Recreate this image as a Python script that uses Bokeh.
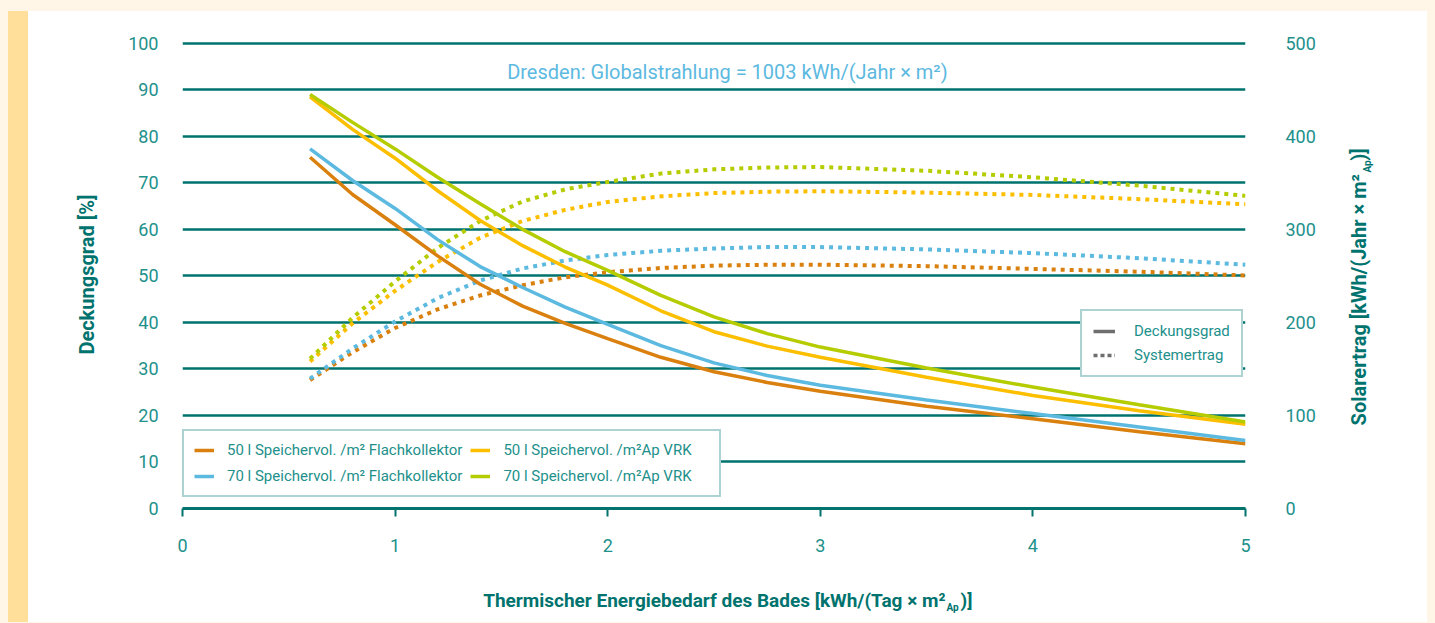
import math
from bokeh.plotting import figure
from bokeh.models import (Range1d, LinearAxis, Legend, LegendItem, Label, Div, FixedTicker)
from bokeh.layouts import row, column
from bokeh.embed import file_html
from bokeh.resources import INLINE

# ---------------- data ----------------
x_bedarf = [0.6, 0.8, 1.0, 1.2, 1.4, 1.6, 1.8, 2.0, 2.25, 2.5, 2.75, 3.0, 3.5, 4.0, 4.5, 5.0]

# Deckungsgrad [%] (left axis)
dg_50_fk = [75.5, 67.5, 61.0, 54.3, 48.2, 43.5, 39.8, 36.5, 32.5, 29.4, 27.1, 25.2, 22.0, 19.3, 16.5, 13.9]
dg_70_fk = [77.3, 70.5, 64.5, 57.8, 52.0, 47.5, 43.3, 39.6, 35.0, 31.3, 28.6, 26.5, 23.3, 20.4, 17.5, 14.6]
dg_50_vrk = [88.5, 81.5, 75.3, 68.3, 61.9, 56.5, 51.9, 48.0, 42.5, 38.0, 34.9, 32.5, 28.2, 24.3, 21.0, 18.1]
dg_70_vrk = [89.0, 83.0, 77.3, 71.2, 65.5, 60.0, 55.2, 51.2, 45.8, 41.2, 37.6, 34.7, 30.2, 26.1, 22.3, 18.6]

# Systemertrag [kWh/(Jahr x m2)] (right axis)
se_50_fk = [138, 168, 194, 214, 229, 240, 248.5, 254, 258.5, 261, 262, 262, 260.5, 257.5, 254.5, 250.5]
se_70_fk = [139.5, 172, 201, 226, 245, 258, 266.5, 272.5, 277, 279.5, 281, 281, 278.5, 274.5, 269, 262]
se_50_vrk = [158, 199, 234, 265, 291, 309, 321, 329.5, 335.5, 339, 340.5, 341, 339.5, 337, 332.5, 327]
se_70_vrk = [161, 205, 244, 280, 309, 330, 343, 351, 360, 364.5, 366.5, 367, 363, 356, 347, 336]

series_labels = ["50 l Speichervol. /m² Flachkollektor", "70 l Speichervol. /m² Flachkollektor",
                 "50 l Speichervol. /m²Ap VRK", "70 l Speichervol. /m²Ap VRK"]
x_ticks = [0, 1, 2, 3, 4, 5]
y_left_ticks = [0, 10, 20, 30, 40, 50, 60, 70, 80, 90, 100]
y_right_ticks = [0, 100, 200, 300, 400, 500]

# ---------------- style ----------------
FONT = "Roboto"
TEAL = "#00736e"
TXT = "#22908b"
C_OR = "#d9800f"
C_BL = "#5cb9df"
C_YE = "#fbbf00"
C_GR = "#b5cc00"
GRAY = "#6e6e6e"

MAIN_W, MAIN_H = 1307, 564
p = figure(width=MAIN_W, height=MAIN_H, x_range=Range1d(0, 5), y_range=Range1d(0, 100.6),
           output_backend="svg", toolbar_location=None, margin=0,
           min_border_left=154, min_border_right=90, min_border_top=29, min_border_bottom=67)
p.outline_line_color = None
p.background_fill_color = "white"
p.border_fill_color = "white"
p.extra_y_ranges = {"se": Range1d(0, 503)}

# grid
p.xgrid.visible = False
p.ygrid.ticker = FixedTicker(ticks=y_left_ticks)
p.ygrid.grid_line_color = TEAL
p.ygrid.grid_line_width = 2.5

# bottom axis
xa = p.xaxis[0]
xa.ticker = FixedTicker(ticks=x_ticks)
xa.axis_line_color = TEAL
xa.axis_line_width = 3
xa.major_tick_line_color = TEAL
xa.major_tick_line_width = 2
xa.major_tick_out = 8
xa.major_tick_in = 0
xa.minor_tick_line_color = None
xa.major_label_standoff = 22
xa.major_label_text_font = FONT
xa.major_label_text_font_size = "18px"
xa.major_label_text_color = TXT

# left axis
ya = p.yaxis[0]
ya.ticker = FixedTicker(ticks=y_left_ticks)
ya.axis_line_color = None
ya.major_tick_line_color = None
ya.minor_tick_line_color = None
ya.major_tick_out = 0
ya.major_tick_in = 0
ya.major_label_standoff = 24
ya.major_label_text_font = FONT
ya.major_label_text_font_size = "18px"
ya.major_label_text_color = TXT
ya.axis_label = "Deckungsgrad [%]"
ya.axis_label_standoff = 26
ya.axis_label_text_font = FONT
ya.axis_label_text_font_size = "20px"
ya.axis_label_text_font_style = "bold"
ya.axis_label_text_color = TEAL

# right axis
ra = LinearAxis(y_range_name="se", ticker=FixedTicker(ticks=y_right_ticks))
ra.axis_line_color = None
ra.major_tick_line_color = None
ra.minor_tick_line_color = None
ra.major_tick_out = 0
ra.major_tick_in = 0
ra.major_label_standoff = 40
ra.major_label_text_font = FONT
ra.major_label_text_font_size = "18px"
ra.major_label_text_color = TXT
p.add_layout(ra, "right")

# lines
colors = [C_OR, C_BL, C_YE, C_GR]
dg_all = [dg_50_fk, dg_70_fk, dg_50_vrk, dg_70_vrk]
se_all = [se_50_fk, se_70_fk, se_50_vrk, se_70_vrk]
dotted_r = []
solid_r = []
for c, se in zip(colors, se_all):
    dotted_r.append(p.line(x_bedarf, se, y_range_name="se", line_color=c, line_width=4,
                           line_dash="4 5", line_cap="butt"))
for c, dg in zip(colors, dg_all):
    solid_r.append(p.line(x_bedarf, dg, line_color=c, line_width=3.5))

# style legend proxies (no visible data)
nan = [float("nan")]
leg_solid = p.line(nan, nan, line_color=GRAY, line_width=3.5)
leg_dot = p.line(nan, nan, line_color=GRAY, line_width=3.5, line_dash="4 3")

def style_legend(lg):
    lg.border_line_color = "#5aa8a3"
    lg.border_line_width = 2
    lg.background_fill_color = "white"
    lg.background_fill_alpha = 1
    lg.label_text_font = FONT
    lg.label_text_font_size = "15px"
    lg.label_text_color = TXT
    lg.label_text_baseline = "middle"

leg1 = Legend(items=[LegendItem(label=series_labels[i], renderers=[solid_r[i]]) for i in range(4)],
              location=(0, 11), ncols=2, padding=10, spacing=8, glyph_height=18, glyph_width=20,
              label_standoff=13, label_width=206, margin=0)
style_legend(leg1)
p.add_layout(leg1, "center")

leg2 = Legend(items=[LegendItem(label="Deckungsgrad", renderers=[leg_solid]),
                     LegendItem(label="Systemertrag", renderers=[leg_dot])],
              location=(898, 131), padding=11, spacing=6, glyph_height=18, glyph_width=22,
              label_standoff=19, margin=0)
style_legend(leg2)
p.add_layout(leg2, "center")

# chart title
p.add_layout(Label(x=2.563, y=93.8, text="Dresden: Globalstrahlung = 1003 kWh/(Jahr × m²)",
                   text_align="center", text_baseline="middle", text_font=FONT,
                   text_font_size="20px", text_color="#5cb9df"))


def text_panel(w, h):
    f = figure(width=w, height=h, x_range=Range1d(0, w), y_range=Range1d(0, h),
               output_backend="svg", toolbar_location=None, margin=0,
               x_axis_type=None, y_axis_type=None, min_border=0)
    f.outline_line_color = None
    f.background_fill_color = "white"
    f.border_fill_color = "white"
    f.xgrid.visible = False
    f.ygrid.visible = False
    return f

# right axis title panel (reads bottom-to-top, with subscript)
RW = 92
pr = text_panel(RW, MAIN_H)
tstyle = dict(text_font=FONT, text_font_style="bold", text_color=TEAL, text_baseline="middle")
pr.add_layout(Label(x=23, y=403, text="Solarertrag [kWh/(Jahr × m²", angle=math.pi / 2,
                    text_align="right", text_font_size="20px", **tstyle))
pr.add_layout(Label(x=32, y=405, text="Ap", angle=math.pi / 2,
                    text_align="left", text_font_size="10px", **tstyle))
pr.add_layout(Label(x=23, y=419, text=")]", angle=math.pi / 2,
                    text_align="left", text_font_size="20px", **tstyle))

# bottom axis title panel (with subscript)
BH = 47
pb = text_panel(MAIN_W + RW, BH)
pb.add_layout(Label(x=917, y=22, text="Thermischer Energiebedarf des Bades [kWh/(Tag × m²",
                    text_align="right", text_font_size="19px", **tstyle))
pb.add_layout(Label(x=918, y=15, text="Ap", text_align="left", text_font_size="10px", **tstyle))
pb.add_layout(Label(x=932, y=22, text=")]", text_align="left", text_font_size="19px", **tstyle))

white = {"background-color": "white"}
strip = Div(width=20, height=MAIN_H + BH, margin=0, styles={"background-color": "#ffdf99"})
inner = column(row(p, pr, spacing=0, margin=0, styles=white), pb, spacing=0, margin=0, styles=white)
layout = row(strip, inner, spacing=0, margin=0)

html = file_html(layout, INLINE)
html = html.replace("</head>", "<style>html,body{margin:0;padding:0;} body{margin:11px 0 0 8px !important;background:#fff6e8;overflow:hidden;}</style></head>", 1)
open("out.html", "w").write(html)
